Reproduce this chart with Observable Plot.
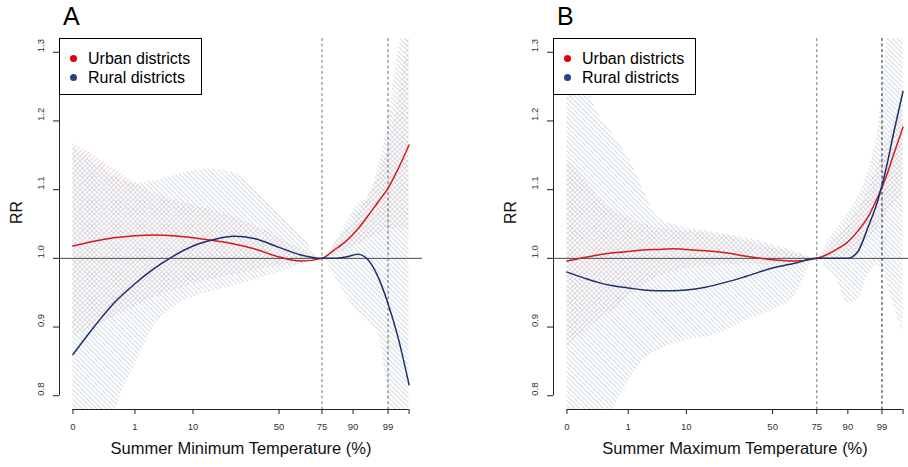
<!DOCTYPE html>
<html>
<head>
<meta charset="utf-8">
<script src="https://cdn.jsdelivr.net/npm/d3@7"></script>
<script src="https://cdn.jsdelivr.net/npm/@observablehq/plot@0.6"></script>
<style>
  html, body { margin: 0; padding: 0; background: #fff; overflow: hidden; }
  #wrap { position: relative; width: 908px; height: 467px; font-family: "Liberation Sans", Arial, sans-serif; }
  .panel { position: absolute; top: 0; height: 467px; overflow: hidden; }
  .panel svg { max-width: none !important; }
  .letter { position: absolute; font-size: 25px; line-height: 25px; color: #000; }
  .legend { position: absolute; width: 141px; height: 55px; border: 1px solid #000; background: #fff; font-size: 16px; color: #000; }
  .legend .row { position: absolute; left: 0; height: 19px; line-height: 19px; white-space: nowrap; }
  .legend .dot { position: absolute; left: 10px; top: 6px; width: 7px; height: 7px; border-radius: 50%; }
  .legend .lab { position: absolute; left: 28px; top: 0; }
</style>
</head>
<body>
<div id="wrap"></div>
<script>
// ---------- Panel A: Summer minimum temperature ----------
const tempA = [14.0, 15.05, 16.05, 17.1, 18.05, 19.0, 20.0, 21.0, 22.05, 23.05, 24.3, 25.4, 26.45, 27.05, 27.65, 28.25, 28.75, 29.25, 29.75, 30.25, 30.8];
const urbanA   = [1.018, 1.025, 1.030, 1.033, 1.034, 1.033, 1.030, 1.026, 1.021, 1.014, 1.002, 0.996, 1.000, 1.012, 1.025, 1.043, 1.062, 1.082, 1.102, 1.130, 1.165];
const urbanLoA = [0.885, 0.900, 0.915, 0.930, 0.943, 0.953, 0.962, 0.970, 0.976, 0.982, 0.988, 0.992, 1.000, 1.005, 1.012, 1.020, 1.028, 1.035, 1.042, 1.045, 1.040];
const urbanHiA = [1.167, 1.150, 1.130, 1.110, 1.095, 1.085, 1.078, 1.070, 1.060, 1.048, 1.030, 1.014, 1.000, 1.020, 1.040, 1.065, 1.090, 1.120, 1.160, 1.230, 1.340];
const ruralA   = [0.860, 0.900, 0.935, 0.963, 0.985, 1.003, 1.018, 1.027, 1.032, 1.029, 1.016, 1.005, 1.000, 1.000, 1.002, 1.006, 0.998, 0.973, 0.934, 0.885, 0.816];
const ruralLoA = [0.550, 0.620, 0.770, 0.845, 0.900, 0.928, 0.943, 0.952, 0.960, 0.968, 0.980, 0.990, 1.000, 0.975, 0.945, 0.920, 0.905, 0.890, 0.800, 0.700, 0.600];
const ruralHiA = [1.160, 1.140, 1.120, 1.110, 1.113, 1.120, 1.127, 1.130, 1.125, 1.100, 1.065, 1.035, 1.000, 1.020, 1.050, 1.080, 1.090, 1.130, 1.200, 1.300, 1.360];
const xTicksA = [14.0, 17.1, 20.0, 24.3, 26.45, 28.0, 29.75, 30.8];

// ---------- Panel B: Summer maximum temperature ----------
const tempB = [22.0, 22.8, 23.55, 24.3, 25.05, 25.8, 26.5, 27.25, 27.95, 28.9, 29.9, 30.95, 32.25, 33.35, 34.45, 35.0, 35.5, 36.0, 36.5, 37.0, 37.5, 37.9, 38.3, 38.75];
const urbanB   = [0.996, 1.001, 1.005, 1.008, 1.010, 1.012, 1.013, 1.014, 1.013, 1.011, 1.008, 1.003, 0.998, 0.996, 1.000, 1.006, 1.014, 1.024, 1.040, 1.060, 1.090, 1.118, 1.153, 1.191];
const urbanLoB = [0.870, 0.890, 0.910, 0.925, 0.943, 0.960, 0.973, 0.980, 0.985, 0.988, 0.990, 0.992, 0.990, 0.990, 1.000, 1.000, 1.000, 1.005, 1.012, 1.025, 1.045, 1.065, 1.080, 1.090];
const urbanHiB = [1.140, 1.120, 1.090, 1.070, 1.060, 1.050, 1.045, 1.042, 1.040, 1.037, 1.033, 1.025, 1.015, 1.008, 1.000, 1.015, 1.030, 1.050, 1.070, 1.100, 1.135, 1.165, 1.200, 1.250];
const ruralB   = [0.980, 0.972, 0.965, 0.960, 0.957, 0.954, 0.953, 0.953, 0.954, 0.958, 0.965, 0.974, 0.986, 0.993, 1.000, 1.000, 1.000, 1.000, 1.010, 1.045, 1.085, 1.130, 1.185, 1.243];
const ruralLoB = [0.550, 0.650, 0.730, 0.780, 0.820, 0.851, 0.865, 0.875, 0.880, 0.885, 0.895, 0.910, 0.925, 0.945, 1.000, 0.985, 0.965, 0.935, 0.940, 0.975, 0.990, 0.970, 0.930, 0.890];
const ruralHiB = [1.350, 1.270, 1.210, 1.180, 1.147, 1.100, 1.060, 1.050, 1.045, 1.040, 1.035, 1.030, 1.020, 1.010, 1.000, 1.025, 1.045, 1.065, 1.090, 1.125, 1.190, 1.300, 1.400, 1.500];
const xTicksB = [22.0, 25.05, 27.95, 32.25, 34.45, 36.0, 37.7, 38.75];

// ---------- Shared ----------
const xTickLabels = ["0", "1", "10", "50", "75", "90", "99", ""];
const yTicks = [0.8, 0.9, 1.0, 1.1, 1.2, 1.3];
const yTickLabels = ["0.8", "0.9", "1.0", "1.1", "1.2", "1.3"];
const seriesNames = ["Urban districts", "Rural districts"];
const lineColors = ["#d01c1c", "#1f2e6e"];
const hatchColors = ["#e6cbd1", "#cbd6df"];

const FONT = '"Liberation Sans", Arial, sans-serif';
const wrap = document.getElementById("wrap");

function rows(t, m, lo, hi) {
  return t.map((d, i) => ({t: d, rr: m[i], lo: lo[i], hi: hi[i]}));
}

function makePanel(cfg) {
  const x0 = cfg.ticks[0], x1 = cfg.ticks[cfg.ticks.length - 1];
  const pad = 0.04 * (x1 - x0);
  const dom = [x0 - pad, x1 + pad];
  const yDom = [0.8 - 0.02, 1.3 + 0.02];
  const labMap = new Map(cfg.ticks.map((d, i) => [d, xTickLabels[i]]));
  const urb = rows(cfg.t, cfg.urban, cfg.urbanLo, cfg.urbanHi);
  const rur = rows(cfg.t, cfg.rural, cfg.ruralLo, cfg.ruralHi);
  const id = cfg.id;
  const svg = Plot.plot({
    width: cfg.width, height: 467,
    marginTop: 38, marginBottom: 58, marginLeft: cfg.ml, marginRight: cfg.mr,
    style: {fontFamily: FONT, background: "transparent", overflow: "visible", maxWidth: "none"},
    x: {domain: dom},
    y: {domain: yDom},
    marks: [
      Plot.areaY(urb, {x: "t", y1: "lo", y2: "hi", fill: `url(#hu${id})`, clip: true, curve: "monotone-x"}),
      Plot.areaY(rur, {x: "t", y1: "lo", y2: "hi", fill: `url(#hr${id})`, clip: true, curve: "monotone-x"}),
      Plot.ruleY([1], {stroke: "#4a4a4a", strokeWidth: 1}),
      Plot.ruleX([cfg.ticks[4]], {stroke: "#777", strokeDasharray: "3,2.5", strokeWidth: 1}),
      Plot.ruleX([cfg.ticks[6]], {stroke: cfg.c99, strokeDasharray: "3,2.5", strokeWidth: 1}),
      Plot.line(urb, {x: "t", y: "rr", stroke: lineColors[0], strokeWidth: 1.5, curve: "monotone-x"}),
      Plot.line(rur, {x: "t", y: "rr", stroke: lineColors[1], strokeWidth: 1.5, curve: "monotone-x"}),
      // axes
      Plot.ruleY([yDom[0]], {x1: x0, x2: x1, stroke: "#222", strokeWidth: 1}),
      Plot.ruleX([dom[0]], {y1: yTicks[0], y2: yTicks[yTicks.length - 1], stroke: "#222", strokeWidth: 1}),
      Plot.axisX({ticks: cfg.ticks, tickSize: 5, tickPadding: 9, tickFormat: d => labMap.get(d), fontSize: 9.5, color: "#333", stroke: "#222", label: null}),
      Plot.axisY({ticks: yTicks, tickSize: 6, tickFormat: () => "", stroke: "#222", label: null}),
      Plot.text(yTicks, {y: d => d, text: (d, i) => yTickLabels[i], frameAnchor: "left", dx: -19, rotate: -90, fontSize: 9.5, fill: "#333"}),
      Plot.text(["RR"], {frameAnchor: "left", dx: -43, rotate: -90, fontSize: 16, fill: "#111"}),
      Plot.text([cfg.xlabel], {frameAnchor: "bottom", dy: 44, fontSize: 16.5, fill: "#111"})
    ]
  });
  const defs = document.createElementNS("http://www.w3.org/2000/svg", "defs");
  defs.innerHTML = `
    <pattern id="hu${id}" patternUnits="userSpaceOnUse" width="3.4" height="3.4" patternTransform="rotate(45)">
      <line x1="0.5" y1="-1" x2="0.5" y2="5" stroke="${hatchColors[0]}" stroke-width="0.85"/>
    </pattern>
    <pattern id="hr${id}" patternUnits="userSpaceOnUse" width="3.4" height="3.4" patternTransform="rotate(-45)">
      <line x1="0.5" y1="-1" x2="0.5" y2="5" stroke="${hatchColors[1]}" stroke-width="0.85"/>
    </pattern>`;
  svg.insertBefore(defs, svg.firstChild);

  const panel = document.createElement("div");
  panel.className = "panel";
  panel.style.left = cfg.left + "px";
  panel.style.width = "454px";
  panel.appendChild(svg);
  wrap.appendChild(panel);

  const letter = document.createElement("div");
  letter.className = "letter";
  letter.textContent = cfg.letter;
  letter.style.left = (cfg.left + cfg.ml + 4) + "px";
  letter.style.top = "4px";
  wrap.appendChild(letter);

  const leg = document.createElement("div");
  leg.className = "legend";
  leg.style.left = (cfg.left + cfg.ml) + "px";
  leg.style.top = "38px";
  seriesNames.forEach((name, i) => {
    const r = document.createElement("div");
    r.className = "row";
    r.style.top = (10 + i * 19) + "px";
    const dot = document.createElement("span");
    dot.className = "dot";
    dot.style.background = i === 0 ? "#e00000" : "#2b4086";
    const lab = document.createElement("span");
    lab.className = "lab";
    lab.textContent = name;
    r.appendChild(dot);
    r.appendChild(lab);
    leg.appendChild(r);
  });
  wrap.appendChild(leg);
}

makePanel({id: "A", letter: "A", left: 0, width: 454, ml: 59, mr: 32, t: tempA, ticks: xTicksA,
  urban: urbanA, urbanLo: urbanLoA, urbanHi: urbanHiA, rural: ruralA, ruralLo: ruralLoA, ruralHi: ruralHiA,
  xlabel: "Summer Minimum Temperature (%)", c99: "#666"});
makePanel({id: "B", letter: "B", left: 454, width: 462, ml: 99, mr: 0, t: tempB, ticks: xTicksB,
  urban: urbanB, urbanLo: urbanLoB, urbanHi: urbanHiB, rural: ruralB, ruralLo: ruralLoB, ruralHi: ruralHiB,
  xlabel: "Summer Maximum Temperature (%)", c99: "#222"});
</script>
</body>
</html>
